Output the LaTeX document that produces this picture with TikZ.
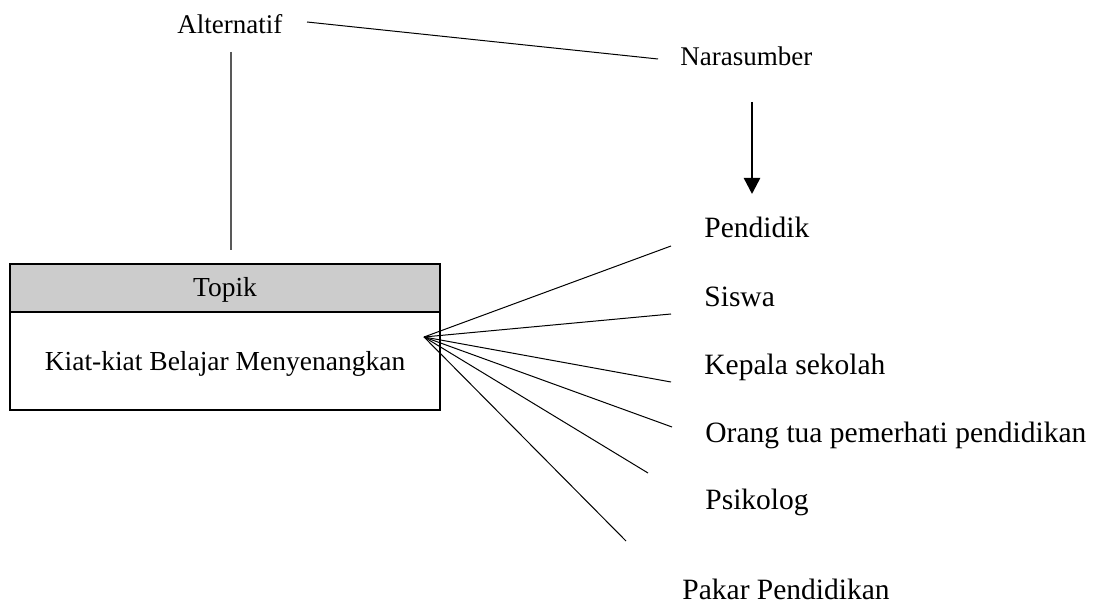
\documentclass[tikz,border=0pt]{standalone}
\usepackage{fontspec}
\setmainfont{Liberation Serif}
\usetikzlibrary{arrows.meta}

\begin{document}
\begin{tikzpicture}[x=0.5pt,y=-0.5pt,
        lbl/.style={inner sep=0pt,anchor=base west,font=\fontsize{13.5}{16}\selectfont},
        src/.style={inner sep=0pt,anchor=base west,font=\fontsize{14.75}{17}\selectfont},
        boxtext/.style={inner sep=0pt,anchor=base,font=\fontsize{13.75}{16}\selectfont}]
        \useasboundingbox (0,0) rectangle (1096,603);

        % topic box
        \fill[black!20] (9.5,264) rectangle (440,312);
        \draw[line width=1pt] (9.5,264) rectangle (440,410);
        \draw[line width=1pt] (9.5,312) -- (440,312);
        \node[boxtext] (topik) at (225,296.7) {Topik};
        \node[boxtext] (kiat) at (225,370.7) {Kiat-kiat Belajar Menyenangkan};

        \node[lbl] (alt) at (177,34) {Alternatif};
        \node[lbl] (nara) at (680,66) {Narasumber};

        \node[src] (pendidik) at (704,238) {Pendidik};
        \node[src] (siswa) at (704,307) {Siswa};
        \node[src] (kepsek) at (704,375) {Kepala sekolah};
        \node[src] (ortu) at (705,443) {Orang tua pemerhati pendidikan};
        \node[src] (psikolog) at (705,509) {Psikolog};
        \node[src] (pakar) at (682,599) {Pakar Pendidikan};

        \coordinate (altl) at (307,22);
        \coordinate (altr) at (658,59);
        \coordinate (altt) at (231,52);
        \coordinate (altb) at (231,250);
        \coordinate (arrt) at (752,102);
        \coordinate (arrb) at (752,194);

        \draw[line width=0.5pt] (altl) -- (altr);
        \draw[line width=0.6pt,black!65] (altt) -- (altb);
        \draw[line width=1.25pt,-{Triangle[width=8pt,length=8pt]}] (arrt) -- (arrb);

        % fan to the sources
        \coordinate (fan) at (424,337);
        \coordinate (e1) at (671,246);
        \coordinate (e2) at (671,314);
        \coordinate (e3) at (671,382);
        \coordinate (e4) at (672,427);
        \coordinate (e5) at (648,473);
        \coordinate (e6) at (626,541);
        \draw[line width=0.5pt] (fan) -- (e1);
        \draw[line width=0.5pt] (fan) -- (e2);
        \draw[line width=0.5pt] (fan) -- (e3);
        \draw[line width=0.5pt] (fan) -- (e4);
        \draw[line width=0.5pt] (fan) -- (e5);
        \draw[line width=0.5pt] (fan) -- (e6);
    \end{tikzpicture}
\end{document}
